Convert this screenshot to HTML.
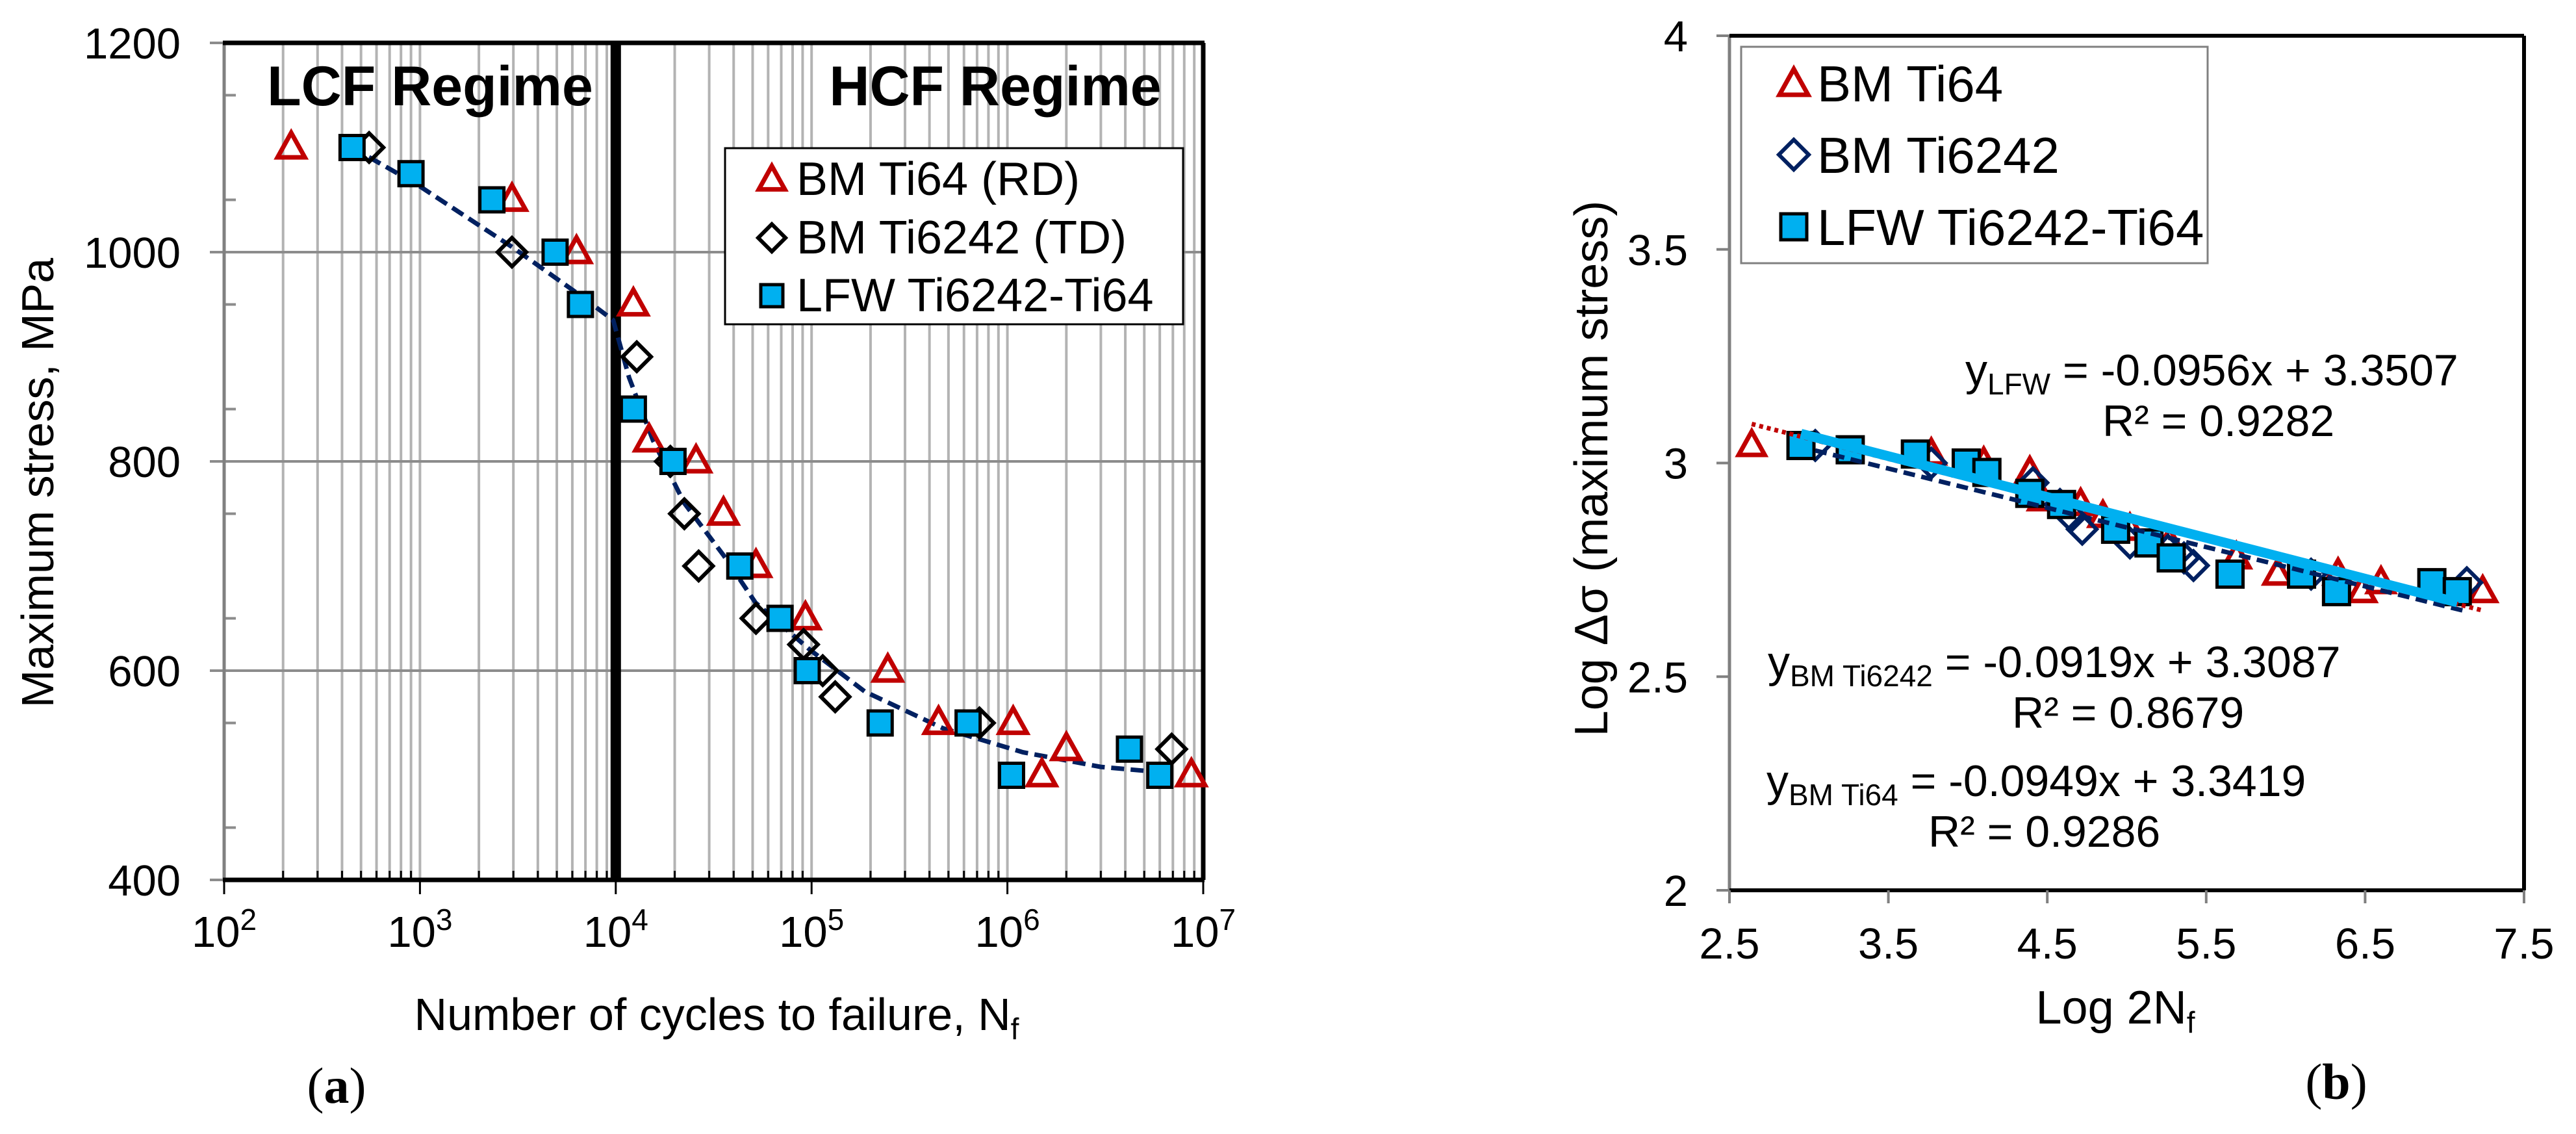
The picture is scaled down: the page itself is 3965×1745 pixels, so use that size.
<!DOCTYPE html>
<html><head><meta charset="utf-8"><style>
html,body{margin:0;padding:0;background:#fff;}
svg{display:block;font-family:"Liberation Sans",sans-serif;}
</style></head><body>
<svg id="fig" width="3965" height="1745" viewBox="0 0 3965 1745" xmlns="http://www.w3.org/2000/svg">
<g id="chartA"></g>
<g id="chartB"></g>
</svg>
<script>
// ---------- Chart (a) data ----------
const ti64N = [220,2950,6300,12300,14800,25700,35500,52000,93000,245000,445000,1070000,2000000,1500000,8700000];
const ti64S = [1100,1050,1000,950,820,800,750,700,650,600,550,550,525,500,500];
const ti6242N = [550,2950,12800,19000,22400,26500,52000,91000,114000,132000,720000,6900000];
const ti6242S = [1100,1000,900,800,750,700,650,625,600,575,550,525];
const lfwN = [450,900,2330,4900,6600,12300,19600,43000,69000,95000,224000,630000,1050000,4200000,6000000];
const lfwS = [1100,1075,1050,1000,950,850,800,700,650,600,550,550,500,525,500];
const trendN = [450,960,2950,6430,9700,11700,15500,22400,35600,51700,98000,187000,468000,1200000,3000000,6900000];
const trendS = [1100,1065,1005,960,935,880,820,760,710,665,620,580,545,522,508,502];
const yTicksA = [400,600,800,1000,1200];
const xDecadesA = [2,3,4,5,6,7];

// ---------- Chart (b) data ----------
const bTi64X = [2.64,3.77,4.10,4.39,4.47,4.71,4.85,5.02,5.27,5.69,5.95,6.33,6.60,6.48,7.24];
const bTi64Y = [3.041,3.021,3.0,2.978,2.914,2.903,2.875,2.845,2.813,2.778,2.740,2.740,2.720,2.699,2.699];
const bTi6242X = [3.04,3.77,4.41,4.58,4.65,4.72,5.02,5.26,5.36,5.42,6.16,7.14];
const bTi6242Y = [3.041,3.0,2.954,2.903,2.875,2.845,2.813,2.796,2.778,2.760,2.740,2.720];
const bLfwX = [2.95,3.26,3.67,3.99,4.12,4.39,4.59,4.93,5.14,5.28,5.65,6.10,6.32,6.92,7.08];
const bLfwY = [3.041,3.031,3.021,3.0,2.978,2.929,2.903,2.845,2.813,2.778,2.740,2.740,2.699,2.720,2.699];
const fitSlopes = [-0.0956,-0.0919,-0.0949];
const fitIntercepts = [3.3507,3.3087,3.3419];
const fitXStart = [2.95,3.04,2.64];
const fitXEnd = [7.08,7.14,7.24];
const xTicksB = [2.5,3.5,4.5,5.5,6.5,7.5];
const yTicksB = [2,2.5,3,3.5,4];
const yTickLabelsB = ["2","2.5","3","3.5","4"];

const NS="http://www.w3.org/2000/svg";
function mk(parent,tag,attrs,text){const e=document.createElementNS(NS,tag);for(const k in attrs)e.setAttribute(k,attrs[k]);if(text!==undefined)e.textContent=text;parent.appendChild(e);return e;}

function tri(g,x,y,s){const h=s*0.9;return mk(g,'polygon',{points:`${x},${y-h*0.6} ${x+s/2},${y+h*0.4} ${x-s/2},${y+h*0.4}`,fill:'#fff','fill-opacity':0,stroke:'#c00000','stroke-width':7,'stroke-linejoin':'miter'});}
function dia(g,x,y,s,col){return mk(g,'polygon',{points:`${x},${y-s/2} ${x+s/2},${y} ${x},${y+s/2} ${x-s/2},${y}`,fill:'none',stroke:col,'stroke-width':6});}
function sq(g,x,y,s){return mk(g,'rect',{x:x-s/2,y:y-s/2,width:s,height:s,fill:'#00b0f0',stroke:'#000','stroke-width':5});}

// ================= Chart A =================
(function(){
const g=document.getElementById('chartA');
const X0=345,X1=1852,Y0=66,Y1=1354;
const xA=n=>X0+(Math.log10(n)-2)/5*(X1-X0);
const yA=s=>Y1-(s-400)/800*(Y1-Y0);
for(let d=2;d<7;d++){for(let m=2;m<=9;m++){const x=xA(m*Math.pow(10,d));
 const l=mk(g,'line',{x1:x,y1:Y0,x2:x,y2:Y1,stroke:'#b3b3b3','stroke-width':4});
 
 
 mk(g,'line',{x1:x,y1:Y1-14,x2:x,y2:Y1,stroke:'#000','stroke-width':3});}}
for(const d of xDecadesA){const x=xA(Math.pow(10,d));
 mk(g,'line',{x1:x,y1:Y0,x2:x,y2:Y1,stroke:'#b3b3b3','stroke-width':4});
 mk(g,'line',{x1:x,y1:Y1,x2:x,y2:Y1+22,stroke:'#000','stroke-width':3});
 const t=mk(g,'text',{x:x,y:1457,'font-size':67,'text-anchor':'middle'});
 
 
 mk(t,'tspan',{},'10');mk(t,'tspan',{dy:-26,'font-size':46},String(d));}
for(const v of yTicksA){const y=yA(v);
 mk(g,'line',{x1:X0,y1:y,x2:X1,y2:y,stroke:'#8c8c8c','stroke-width':4});
 mk(g,'line',{x1:X0-22,y1:y,x2:X0,y2:y,stroke:'#8c8c8c','stroke-width':4});
 const t=mk(g,'text',{x:278,y:y+24,'font-size':67,'text-anchor':'end'},String(v));
 
 }
for(let v=450;v<1200;v+=100){const y=yA(v);mk(g,'line',{x1:X0,y1:y,x2:X0+18,y2:y,stroke:'#8c8c8c','stroke-width':4});}
mk(g,'line',{x1:X0,y1:Y0,x2:X0,y2:Y1,stroke:'#808080','stroke-width':5});
mk(g,'line',{x1:X0-2,y1:Y0,x2:X1+2,y2:Y0,stroke:'#000','stroke-width':7});
mk(g,'line',{x1:X1,y1:Y0,x2:X1,y2:Y1,stroke:'#000','stroke-width':7});
const ax=mk(g,'line',{x1:X0-2,y1:Y1,x2:X1+2,y2:Y1,stroke:'#000','stroke-width':7});


const dv=mk(g,'line',{x1:xA(10000),y1:Y0,x2:xA(10000),y2:Y1,stroke:'#000','stroke-width':16});


const l1=mk(g,'text',{x:662,y:162,'font-size':86,'font-weight':'bold','text-anchor':'middle'},'LCF Regime');


const l2=mk(g,'text',{x:1532,y:162,'font-size':86,'font-weight':'bold','text-anchor':'middle'},'HCF Regime');


const tp=trendN.map((n,i)=>xA(n)+','+yA(trendS[i])).join(' ');
const tr=mk(g,'polyline',{points:tp,fill:'none',stroke:'#002060','stroke-width':7,'stroke-dasharray':'20 10'});


ti64N.forEach((n,i)=>{const e=tri(g,xA(n),yA(ti64S[i]),42);
 
 });
ti6242N.forEach((n,i)=>{const e=dia(g,xA(n),yA(ti6242S[i]),44,'#000');
 
 });
lfwN.forEach((n,i)=>{const e=sq(g,xA(n),yA(lfwS[i]),37);
 
 });
const lg=mk(g,'g',{});


mk(lg,'rect',{x:1116,y:228,width:705,height:271,fill:'#fff',stroke:'#000','stroke-width':3});
tri(lg,1188,277,40);mk(lg,'text',{x:1226,y:300,'font-size':72},'BM Ti64 (RD)');
dia(lg,1188,366,42,'#000');mk(lg,'text',{x:1226,y:390,'font-size':72},'BM Ti6242 (TD)');
sq(lg,1188,455,34);mk(lg,'text',{x:1226,y:479,'font-size':72},'LFW Ti6242-Ti64');
const yt=mk(g,'text',{x:0,y:0,'font-size':70,'text-anchor':'middle',transform:'translate(82,743) rotate(-90)'},'Maximum stress, MPa');


const xt=mk(g,'text',{x:1103,y:1585,'font-size':70,'text-anchor':'middle'});


mk(xt,'tspan',{},'Number of cycles to failure, N');mk(xt,'tspan',{dy:14,'font-size':46},'f');
const pa=mk(g,'text',{x:518,y:1697,'font-size':78,'text-anchor':'middle','font-family':'"Liberation Serif",serif'});


mk(pa,'tspan',{},'(');mk(pa,'tspan',{'font-weight':'bold'},'a');mk(pa,'tspan',{},')');
})();

// ================= Chart B =================
(function(){
const g=document.getElementById('chartB');
const X0=2662,X1=3885,Y0=55,Y1=1370;
const xB=v=>X0+(v-2.5)/5*(X1-X0);
const yB=v=>Y1-(v-2)/2*(Y1-Y0);
mk(g,'line',{x1:X0,y1:Y0,x2:X0,y2:Y1,stroke:'#808080','stroke-width':5});
mk(g,'line',{x1:X0,y1:Y0,x2:X1,y2:Y0,stroke:'#000','stroke-width':6});
mk(g,'line',{x1:X1,y1:Y0,x2:X1,y2:Y1,stroke:'#000','stroke-width':6});
mk(g,'line',{x1:X0,y1:Y1,x2:X1,y2:Y1,stroke:'#000','stroke-width':6});
yTicksB.forEach((v,i)=>{const y=yB(v);
 mk(g,'line',{x1:X0-20,y1:y,x2:X0,y2:y,stroke:'#808080','stroke-width':4});
 const t=mk(g,'text',{x:2598,y:y+24,'font-size':67,'text-anchor':'end'},yTickLabelsB[i]);
 
 });
xTicksB.forEach(v=>{const x=xB(v);
 mk(g,'line',{x1:x,y1:Y1,x2:x,y2:Y1+20,stroke:'#808080','stroke-width':4});
 const t=mk(g,'text',{x:x,y:1475,'font-size':67,'text-anchor':'middle'},v.toFixed(1));
 
 });
bTi64X.forEach((v,i)=>{const e=tri(g,xB(v),yB(bTi64Y[i]),40);
 
 });
bTi6242X.forEach((v,i)=>{const e=dia(g,xB(v),yB(bTi6242Y[i]),44,'#002060');
 
 });
bLfwX.forEach((v,i)=>{const e=sq(g,xB(v),yB(bLfwY[i]),40);
 
 });
const fitStyle=[{stroke:'#00b0f0','stroke-width':15},{stroke:'#002060','stroke-width':7,'stroke-dasharray':'18 10'},{stroke:'#c00000','stroke-width':7,'stroke-dasharray':'6 6'}];
const fitNames=['fit-line-lfw','fit-line-ti6242','fit-line-ti64'];
[1,2,0].forEach(k=>{const a=fitXStart[k],b=fitXEnd[k];
 const at={x1:xB(a),y1:yB(fitSlopes[k]*a+fitIntercepts[k]),x2:xB(b),y2:yB(fitSlopes[k]*b+fitIntercepts[k])};
 Object.assign(at,fitStyle[k]);
 const l=mk(g,'line',at);
 
 });
function eq(x,y,sub,txt,rx,r2){const t=mk(g,'text',{x:x,y:y,'font-size':68});
 
 
 mk(t,'tspan',{},'y');mk(t,'tspan',{dy:14,'font-size':46},sub);mk(t,'tspan',{dy:-14},' = '+txt);
 const r=mk(g,'text',{x:rx,y:y+78,'font-size':68},'R² = '+r2);
 
 }
eq(3025,593,'LFW','-0.0956x + 3.3507',3236,'0.9282');
eq(2721,1042,'BM Ti6242','-0.0919x + 3.3087',3097,'0.8679');
eq(2719,1225,'BM Ti64','-0.0949x + 3.3419',2968,'0.9286');
const lg=mk(g,'g',{});


mk(lg,'rect',{x:2680,y:72,width:718,height:333,fill:'#fff',stroke:'#808080','stroke-width':3});
tri(lg,2761,130,44);mk(lg,'text',{x:2797,y:156,'font-size':78},'BM Ti64');
dia(lg,2761,238,46,'#002060');mk(lg,'text',{x:2797,y:266,'font-size':78},'BM Ti6242');
sq(lg,2761,349,40);mk(lg,'text',{x:2797,y:377,'font-size':78},'LFW Ti6242-Ti64');
const yt=mk(g,'text',{x:0,y:0,'font-size':72,'text-anchor':'middle',transform:'translate(2474,721) rotate(-90)'},'Log Δσ (maximum stress)');


const xt=mk(g,'text',{x:3256,y:1575,'font-size':72,'text-anchor':'middle'});


mk(xt,'tspan',{},'Log 2N');mk(xt,'tspan',{dy:14,'font-size':46},'f');
const pb=mk(g,'text',{x:3596,y:1691,'font-size':78,'text-anchor':'middle','font-family':'"Liberation Serif",serif'});


mk(pb,'tspan',{},'(');mk(pb,'tspan',{'font-weight':'bold'},'b');mk(pb,'tspan',{},')');
})();
</script>
</body></html>
